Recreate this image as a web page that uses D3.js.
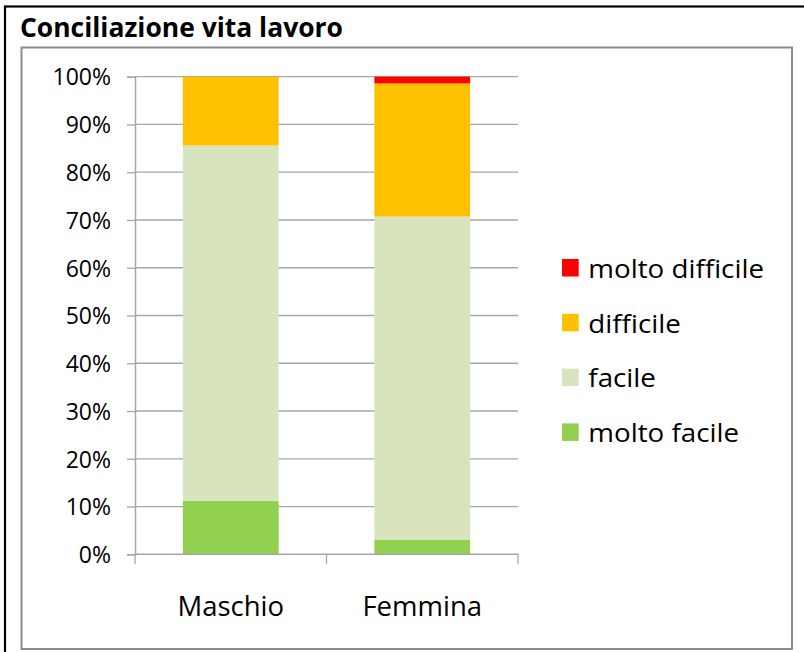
<!DOCTYPE html>
<html>
<head>
<meta charset="utf-8">
<script src="https://cdn.jsdelivr.net/npm/d3@7"></script>
<style>
  body { margin: 0; background: #fff; }
  svg { display: block; font-family: "Open Sans", sans-serif; }
</style>
</head>
<body>
<div id="main"></div>
<script>
// chart values (shares of each answer)
const categories = ["Maschio", "Femmina"];
const seriesNames = ["molto facile", "facile", "difficile", "molto difficile"];
const moltoFacile = [0.112, 0.030];
const facile = [0.744, 0.677];
const difficile = [0.144, 0.279];
const moltoDifficile = [0.000, 0.014];
const yTicks = [0, 0.1, 0.2, 0.3, 0.4, 0.5, 0.6, 0.7, 0.8, 0.9, 1];
const colors = ["#92D050", "#D7E4BD", "#FFC000", "#FF0000"];

const w = 804;
const h = 652;

// table built from the arrays for d3.stack
const table = categories.map(function (c, i) {
    return {
        cat: c,
        "molto facile": moltoFacile[i],
        "facile": facile[i],
        "difficile": difficile[i],
        "molto difficile": moltoDifficile[i]
    };
});

const svg = d3.select("#main").append("svg").attr("width", w).attr("height", h);

// outer black frame and inner grey chart border
svg.append("rect")
    .attr("x", 5).attr("y", 6.5)
    .attr("width", 900).attr("height", 800)
    .attr("fill", "none").attr("stroke", "#000").attr("stroke-width", 2.2);

svg.append("rect")
    .attr("x", 21.5).attr("y", 47.5)
    .attr("width", 770.5).attr("height", 601.5)
    .attr("fill", "none").attr("stroke", "#8c8c8c").attr("stroke-width", 2);

// title
svg.append("text")
    .attr("x", 20).attr("y", 36.5)
    .style("font-size", "26.5px")
    .style("font-weight", "bold")
    .attr("fill", "#000")
    .attr("textLength", 323)
    .attr("lengthAdjust", "spacingAndGlyphs")
    .text("Conciliazione vita lavoro");

// scales
const xScale = d3.scaleBand()
    .domain(categories)
    .range([135, 518])
    .paddingInner(0.5)
    .paddingOuter(0.25);

const yScale = d3.scaleLinear()
    .domain([0, 1])
    .range([554.3, 76.7]);

// gridlines
svg.append("g")
    .selectAll("line")
    .data(yTicks.slice(1))
    .enter()
    .append("line")
    .attr("x1", 135).attr("x2", 518)
    .attr("y1", d => yScale(d)).attr("y2", d => yScale(d))
    .attr("stroke", "#a6a6a6").attr("stroke-width", 1.3);

// y axis
const yAxis = d3.axisLeft(yScale)
    .tickValues(yTicks)
    .tickFormat(d3.format(".0%"))
    .tickSize(8)
    .tickPadding(16);

const yG = svg.append("g")
    .attr("transform", "translate(135,0)")
    .call(yAxis);
yG.select(".domain").attr("stroke", "#a6a6a6").attr("stroke-width", 1.5);
yG.selectAll(".tick line").attr("stroke", "#a6a6a6").attr("stroke-width", 1.3);
yG.selectAll(".tick text")
    .attr("fill", "#000")
    .attr("dy", "0.36em")
    .style("font-size", "23px")
    .style("font-family", "'Open Sans', sans-serif");

// stacked bars
const stack = d3.stack().keys(seriesNames);
const layers = stack(table);

svg.append("g")
    .selectAll("g")
    .data(layers)
    .enter()
    .append("g")
    .attr("fill", (d, i) => colors[i])
    .selectAll("rect")
    .data(d => d)
    .enter()
    .append("rect")
    .attr("x", d => xScale(d.data.cat))
    .attr("width", xScale.bandwidth())
    .attr("y", d => yScale(d[1]))
    .attr("height", d => yScale(d[0]) - yScale(d[1]));

// x axis: line, boundary ticks, labels
const xG = svg.append("g");
xG.append("line")
    .attr("x1", 135).attr("x2", 518)
    .attr("y1", yScale(0)).attr("y2", yScale(0))
    .attr("stroke", "#a6a6a6").attr("stroke-width", 1.5);

xG.selectAll(".xtick")
    .data(d3.range(categories.length + 1))
    .enter()
    .append("line")
    .attr("class", "xtick")
    .attr("x1", i => xScale.range()[0] + i * xScale.step())
    .attr("x2", i => xScale.range()[0] + i * xScale.step())
    .attr("y1", yScale(0)).attr("y2", yScale(0) + 10)
    .attr("stroke", "#a6a6a6").attr("stroke-width", 1.3);

xG.selectAll(".xlabel")
    .data(categories)
    .enter()
    .append("text")
    .attr("class", "xlabel")
    .attr("x", d => xScale(d) + xScale.bandwidth() / 2)
    .attr("y", 616)
    .attr("text-anchor", "middle")
    .style("font-size", "27.5px")
    .attr("fill", "#000")
    .text(d => d);

// legend (top to bottom: molto difficile ... molto facile)
const legendKeys = seriesNames.slice().reverse();
const legend = svg.append("g")
    .selectAll("g")
    .data(legendKeys)
    .enter()
    .append("g")
    .attr("transform", (d, i) => "translate(562," + (259 + i * 54.8) + ")");

legend.append("rect")
    .attr("width", 16.7).attr("height", 17.5)
    .attr("fill", d => colors[seriesNames.indexOf(d)]);

legend.append("text")
    .attr("transform", "translate(26.3,18.7) scale(1.11,1)")
    .style("font-size", "25px")
    .attr("fill", "#000")
    .text(d => d);
</script>
</body>
</html>
